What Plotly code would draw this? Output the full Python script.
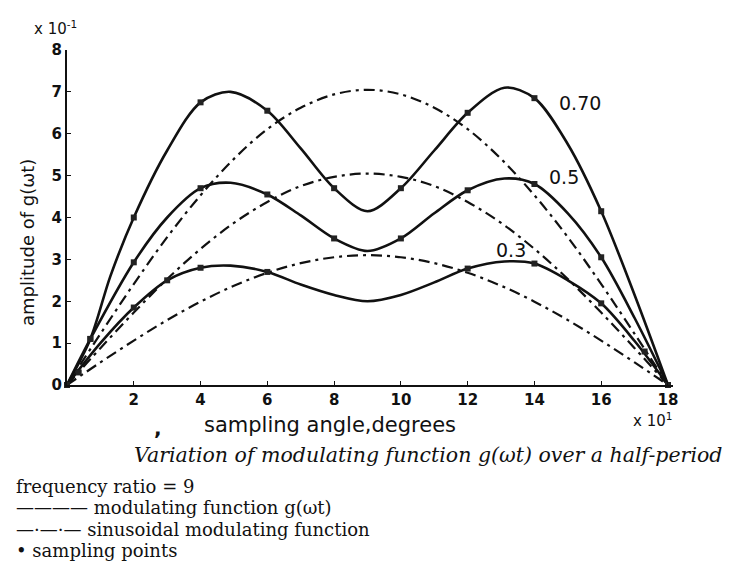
import plotly.graph_objects as go

# ---------------- data ----------------
# x in units of 10 degrees, y in units of 0.1
x07 = [0, 0.7, 1.3, 2, 3, 4, 4.9, 6, 7, 8, 9, 10, 11, 12, 13.1, 14, 15, 16, 17, 18]
y07 = [0, 1.1, 2.6, 4.0, 5.6, 6.75, 7.0, 6.55, 5.65, 4.7, 4.15, 4.7, 5.6, 6.5, 7.1, 6.85, 5.75, 4.15, 2.15, 0]

x05 = [0, 0.7, 2, 3, 4, 4.9, 6, 7, 8, 9, 10, 11, 12, 13.1, 14, 15, 16, 17, 18]
y05 = [0, 1.1, 2.93, 4.0, 4.7, 4.83, 4.55, 4.05, 3.5, 3.2, 3.5, 4.1, 4.65, 4.93, 4.8, 4.1, 3.05, 1.6, 0]

x03 = [0, 1, 2, 3, 4, 4.9, 6, 7, 8, 9, 10, 11, 12, 13.1, 14, 15, 16, 17, 18]
y03 = [0, 1.0, 1.85, 2.5, 2.8, 2.85, 2.7, 2.4, 2.15, 2.0, 2.15, 2.45, 2.78, 2.95, 2.9, 2.5, 1.95, 1.05, 0]

# sampling points
px07 = [0, 0.7, 2, 4, 6, 8, 10, 12, 14, 16, 18]
py07 = [0, 1.1, 4.0, 6.75, 6.55, 4.7, 4.7, 6.5, 6.85, 4.15, 0]
px05 = [0, 0.7, 2, 4, 6, 8, 10, 12, 14, 16, 18]
py05 = [0, 1.1, 2.93, 4.7, 4.55, 3.5, 3.5, 4.65, 4.8, 3.05, 0]
px03 = [0, 0.35, 2, 3, 4, 6, 12, 14, 16, 17.3, 18]
py03 = [0, 0.3, 1.85, 2.5, 2.8, 2.7, 2.78, 2.9, 1.95, 0.8, 0]

# sinusoidal modulating functions, read at every 10 degrees
xs = list(range(0, 19))
s07 = [0, 1.22, 2.41, 3.53, 4.53, 5.40, 6.11, 6.62, 6.94, 7.05, 6.94, 6.62, 6.11, 5.40, 4.53, 3.53, 2.41, 1.22, 0]
s05 = [0, 0.88, 1.73, 2.53, 3.25, 3.87, 4.37, 4.75, 4.97, 5.05, 4.97, 4.75, 4.37, 3.87, 3.25, 2.53, 1.73, 0.88, 0]
s03 = [0, 0.54, 1.06, 1.55, 1.99, 2.37, 2.68, 2.91, 3.05, 3.10, 3.05, 2.91, 2.68, 2.37, 1.99, 1.55, 1.06, 0.54, 0]

curve_labels = ["0.70", "0.5", "0.3"]
label_pos = [(15.35, 6.73), (14.9, 4.96), (13.3, 3.22)]

xticks = [2, 4, 6, 8, 10, 12, 14, 16, 18]
yticks = [0, 1, 2, 3, 4, 5, 6, 7, 8]

legend_lines = [
    "frequency ratio = 9",
    "———— modulating function g(ωt)",
    "—·—·— sinusoidal modulating function",
    "• sampling points",
]
caption = "Variation of modulating function g(ωt) over a half-period"

# ---------------- figure ----------------
W, H = 734, 572
ML, MR, MT, MB = 67, 61, 50, 187
PH = H - MT - MB
PW = W - ML - MR

fig = go.Figure()
dash = "11px,5px,3px,5px"
for xv, yv in [(xs, s07), (xs, s05), (xs, s03)]:
    fig.add_trace(go.Scatter(x=xv, y=yv, mode="lines",
                             line=dict(color="#111", width=2.2, dash=dash, shape="spline", smoothing=1.0),
                             hoverinfo="skip"))
for xv, yv in [(x07, y07), (x05, y05), (x03, y03)]:
    fig.add_trace(go.Scatter(x=xv, y=yv, mode="lines",
                             line=dict(color="#111", width=2.6, shape="spline", smoothing=0.9),
                             hoverinfo="skip"))
for xv, yv in [(px07, py07), (px05, py05), (px03, py03)]:
    fig.add_trace(go.Scatter(x=xv, y=yv, mode="markers", cliponaxis=False,
                             marker=dict(symbol="square", size=6, color="#222"),
                             hoverinfo="skip"))

for t, (lx, ly) in zip(curve_labels, label_pos):
    fig.add_annotation(x=lx, y=ly, text=t, showarrow=False, xanchor="center", yanchor="middle",
                       font=dict(family="DejaVu Sans", size=19, color="#111"))


def py(pix):
    return (H - MB - pix) / PH


def px(pix):
    return (pix - ML) / PW


def note(xp, yp, text, size, family="DejaVu Sans", xanchor="center", angle=0):
    fig.add_annotation(xref="paper", yref="paper", x=px(xp), y=py(yp), text=text,
                       showarrow=False, xanchor=xanchor, yanchor="middle", textangle=angle,
                       font=dict(family=family, size=size, color="#111"))


note(55, 28, "x 10<sup>-1</sup>", 15)
note(652, 420, "x 10<sup>1</sup>", 15)
note(27, 243, "amplitude of g(ωt)", 18, angle=-90)
note(330, 425, "sampling angle,degrees", 21)
note(158, 428, "<b>,</b>", 20)
note(428, 455, "<i>" + caption + "</i>", 20.5, family="DejaVu Serif")
for i, t in enumerate(legend_lines):
    note(14, 486 + i * 21.5, t, 18, family="DejaVu Serif", xanchor="left")

fig.update_layout(
    width=W, height=H, margin=dict(l=ML, r=MR, t=MT, b=MB),
    paper_bgcolor="white", plot_bgcolor="white", showlegend=False,
    font=dict(family="DejaVu Sans", color="#111"),
)
fig.update_xaxes(range=[0, 18.15], tickvals=xticks, ticktext=["<b>%d</b>" % v for v in xticks],
                 showgrid=False, zeroline=False, showline=True, linecolor="#111", linewidth=2,
                 ticks="inside", ticklen=4, tickcolor="#111", tickfont=dict(size=15, family="DejaVu Sans"))
fig.update_yaxes(range=[0, 8], tickvals=yticks, ticktext=["<b>%d</b>" % v for v in yticks],
                 showgrid=False, zeroline=False, showline=True, linecolor="#111", linewidth=2,
                 ticks="inside", ticklen=4, tickcolor="#111", tickfont=dict(size=15, family="DejaVu Sans"))

fig.write_html("out.html")
